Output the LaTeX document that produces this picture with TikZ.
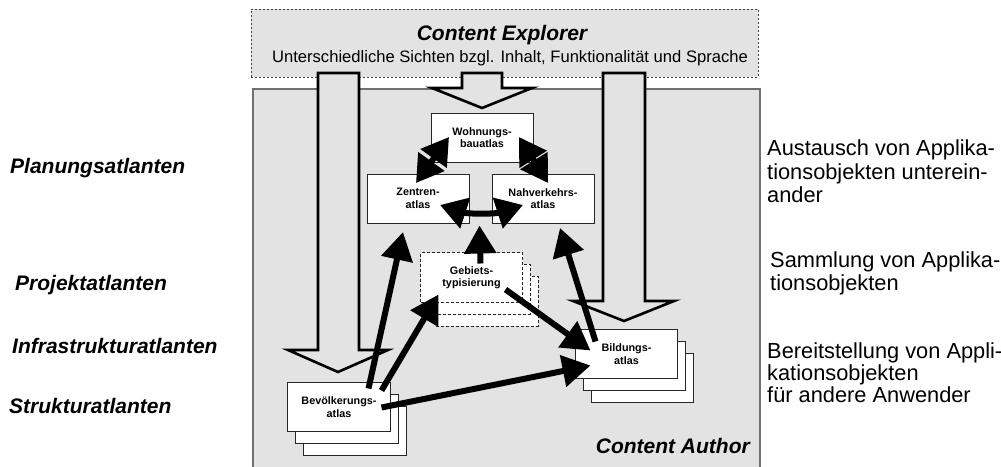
\documentclass[tikz,border=0pt]{standalone}
\usepackage{fontspec}
\setmainfont{Liberation Sans}
\usetikzlibrary{arrows.meta,calc}
\definecolor{bg}{HTML}{E3E3E3}
\definecolor{frame}{HTML}{707070}
\begin{document}
\begin{tikzpicture}[x=1pt,y=-1pt,
  bigfont/.style={font=\fontsize{21}{25}\selectfont\bfseries\itshape},
  sidetxt/.style={font=\fontsize{21.8}{24}\selectfont, inner sep=0pt, anchor=base west},
  lefttxt/.style={font=\fontsize{21}{25}\selectfont\bfseries\itshape, inner sep=0pt, anchor=base west},
  atlas/.style={draw=black!85, line width=1pt, fill=white, minimum width=102pt, minimum height=49pt,
    align=center, inner sep=0pt, font=\fontsize{10.8}{12.5}\selectfont\bfseries},
  stackback/.style={draw=black!85, line width=1pt, fill=white},
  dashbox/.style={dash pattern=on 3pt off 2pt},
  hollow/.style={draw=black, line width=2.6pt, fill=bg, line join=miter},
  bigarrow/.style={line width=6pt, -{Triangle[length=28pt,width=31pt]}},
  dblarrow/.style={line width=6pt, {Triangle[length=26.5pt,width=31pt]}-{Triangle[length=26.5pt,width=31pt]}}
]
\useasboundingbox (0,0) rectangle (1001,466);

% Content Explorer
\node[draw=black!75, fill=bg, line width=1pt, dash pattern=on 2pt off 2pt,
      minimum width=507pt, minimum height=68pt, inner sep=0pt] (ce) at (504.5,43) {};
\node[bigfont, anchor=base, inner sep=0pt] (cetitle) at (502,40) {Content Explorer};
\node[font=\fontsize{16.6}{20}\selectfont, anchor=base, inner sep=0pt] (cesub) at (510,62)
  {Unterschiedliche Sichten bzgl. Inhalt, Funktionalität und Sprache};

% Content Author
\node[draw=frame, fill=bg, line width=1.6pt, minimum width=507pt, minimum height=385pt,
      inner sep=0pt, anchor=north west] (ca) at (252,88) {};
\node[bigfont, anchor=base east, inner sep=0pt] (catitle) at (750,453) {Content Author};

% hollow arrows
\draw[hollow] (318,73)--(359,73)--(359,350)--(388,350)--(338,372)--(288,350)--(318,350)--cycle;
\draw[hollow] (462,73)--(502,73)--(502,88)--(532,88)--(482,108)--(432,88)--(462,88)--cycle;
\draw[hollow] (603,73)--(645,73)--(645,301)--(674,301)--(624,321)--(573,301)--(603,301)--cycle;

% single boxes
\node[atlas] (woh) at (482,137.5) {Wohnungs-\\bauatlas};
\node[atlas] (zen) at (418,198.5) {Zentren-\\atlas};
\node[atlas] (nah) at (543,198.5) {Nahverkehrs-\\atlas};

% Gebietstypisierung stack (dashed)
\coordinate (gebpos) at (420,252);
\draw[stackback, dashbox] ($(gebpos)+(16,24)$) rectangle +(102,50);
\draw[stackback, dashbox] ($(gebpos)+(8,12)$) rectangle +(102,50);
\node[atlas, dashbox, minimum height=50pt, anchor=north west] (geb) at (gebpos) {Gebiets-\\typisierung};

% Bildungsatlas stack
\coordinate (bilpos) at (575,329);
\draw[stackback] ($(bilpos)+(16,24)$) rectangle +(102,49);
\draw[stackback] ($(bilpos)+(8,12)$) rectangle +(102,49);
\node[atlas, anchor=north west] (bil) at (bilpos) {Bildungs-\\atlas};

% Bevoelkerungsatlas stack
\coordinate (bevpos) at (287,382);
\draw[stackback] ($(bevpos)+(16,24)$) rectangle +(103,49);
\draw[stackback] ($(bevpos)+(8,12)$) rectangle +(103,49);
\node[atlas, minimum width=103pt, anchor=north west] (bev) at (bevpos) {Bevölkerungs-\\atlas};

% black arrows
\draw[dblarrow] ([shift={(-33,-0.5)}]woh.center) -- ([shift={(-2,-15.5)}]zen.center);
\draw[dblarrow] ([shift={(37,-0.5)}]woh.center) -- ([shift={(5,-15.5)}]nah.center);
\draw[dblarrow] ([shift={(22,6.5)}]zen.center) .. controls ([shift={(50,15.5)}]zen.center)
   and ([shift={(-48,15.5)}]nah.center) .. ([shift={(-20,6.5)}]nah.center);
\draw[bigarrow] ([shift={(9,-14)}]geb.center) -- ($(zen.south east)!0.5!(nah.south west)+(-1,2)$);
\draw[bigarrow] ([shift={(29.5,-18.5)}]bev.center) -- ([shift={(-15,33.5)}]zen.center);
\draw[bigarrow] ([shift={(42.5,-16.5)}]bev.center) -- ([shift={(-33,17)}]geb.center);
\draw[bigarrow] ([shift={(42.5,0.5)}]bev.center) -- ([shift={(-36,11.5)}]bil.center);
\draw[bigarrow] ([shift={(34,12)}]geb.center) -- ([shift={(-36,-3.5)}]bil.center);
\draw[bigarrow] ([shift={(-31,-12.5)}]bil.center) -- ([shift={(17,29.5)}]nah.center);

% left labels
\node[lefttxt] (l1) at (10,173) {Planungsatlanten};
\node[lefttxt] (l2) at (15,290) {Projektatlanten};
\node[lefttxt] (l3) at (12,353) {Infrastrukturatlanten};
\node[lefttxt] (l4) at (9,413) {Strukturatlanten};

% right labels
\node[sidetxt] (r1a) at (767,155) {Austausch von Applika-};
\node[sidetxt] (r1b) at (767,179) {tionsobjekten unterein-};
\node[sidetxt] (r1c) at (767,202) {ander};
\node[sidetxt] (r2a) at (770,267) {Sammlung von Applika-};
\node[sidetxt] (r2b) at (770,290) {tionsobjekten};
\node[sidetxt] (r3a) at (767,358) {Bereitstellung von Appli-};
\node[sidetxt] (r3b) at (767,380) {kationsobjekten};
\node[sidetxt] (r3c) at (767,402) {für andere Anwender};
\end{tikzpicture}
\end{document}
